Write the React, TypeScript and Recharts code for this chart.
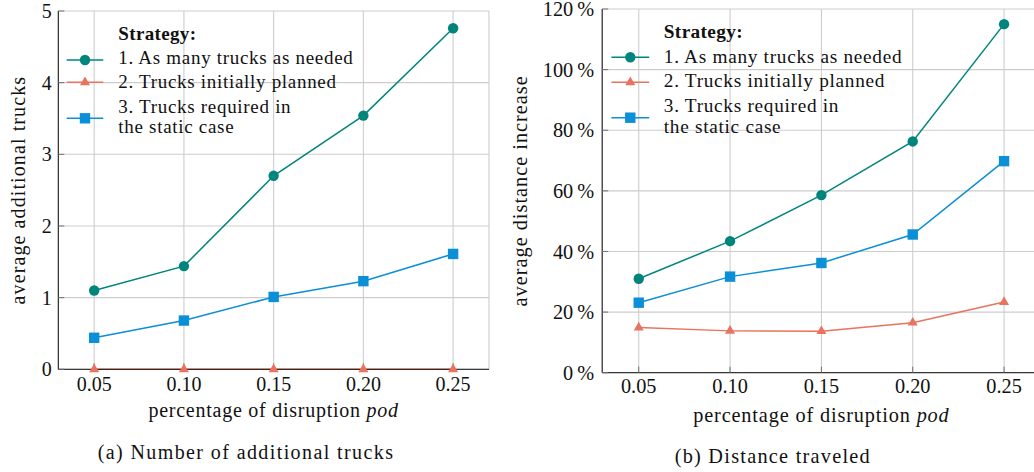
import React from 'react';
import { LineChart, Line, XAxis, YAxis, CartesianGrid, Legend, Label } from 'recharts';

// ---------- data ----------
const pod = [0.05, 0.1, 0.15, 0.2, 0.25];
const xTicks = [0.05, 0.1, 0.15, 0.2, 0.25];
const trucksNeeded = [1.1, 1.44, 2.7, 3.54, 4.76];
const trucksPlanned = [0, 0, 0, 0, 0];
const trucksStatic = [0.44, 0.68, 1.01, 1.23, 1.61];
const distNeeded = [31.0, 43.4, 58.6, 76.3, 115.0];
const distPlanned = [14.9, 13.8, 13.7, 16.5, 23.3];
const distStatic = [23.1, 31.7, 36.2, 45.6, 69.8];
const trucksTicks = [0, 1, 2, 3, 4, 5];
const distTicks = [0, 20, 40, 60, 80, 100, 120];
const legendTitle = 'Strategy:';
const seriesLabels: string[][] = [
  ['1. As many trucks as needed'],
  ['2. Trucks initially planned'],
  ['3. Trucks required in', 'the static case'],
];
const yTitleA = 'average additional trucks';
const yTitleB = 'average distance increase';
const xTitle = 'percentage of disruption ';
const xTitleItalic = 'pod';
const captionA = '(a) Number of additional trucks';
const captionB = '(b) Distance traveled';

const TEAL = '#00857d';
const SALMON = '#e8735f';
const BLUE = '#0b8fd6';
const FONT = '"Liberation Serif", "Times New Roman", serif';

const dataA = pod.map((x, i) => ({ pod: x, s1: trucksNeeded[i], s2: trucksPlanned[i], s3: trucksStatic[i] }));
const dataB = pod.map((x, i) => ({ pod: x, s1: distNeeded[i], s2: distPlanned[i], s3: distStatic[i] }));

// ---------- markers ----------
const circleShape = (cx: number, cy: number, key?: any) => (
  <circle key={key} cx={cx} cy={cy} r={5.2} fill={TEAL} />
);
const squareShape = (cx: number, cy: number, key?: any) => (
  <rect key={key} x={cx - 5.2} y={cy - 5.2} width={10.4} height={10.4} fill={BLUE} />
);
const triShape = (cx: number, cy: number, key?: any) => {
  const r = 5.8;
  return (
    <path
      key={key}
      d={`M${cx},${cy - r} L${cx + r * 0.866},${cy + r / 2} L${cx - r * 0.866},${cy + r / 2} Z`}
      fill={SALMON}
    />
  );
};
const CircleDot = (p: any) => (p.cx == null ? <g key={p.key} /> : circleShape(p.cx, p.cy, p.key));
const SquareDot = (p: any) => (p.cx == null ? <g key={p.key} /> : squareShape(p.cx, p.cy, p.key));
const TriDot = (p: any) => (p.cx == null ? <g key={p.key} /> : triShape(p.cx, p.cy, p.key));

// ---------- legend ----------
type LegendCfg = {
  lineX1: number;
  lineX2: number;
  textX: number;
  titleY: number;
  rowY: number[][]; // baselines for text lines
  markY: number[];
  fontSize: number;
  spacing: number;
};

const makeLegend = (cfg: LegendCfg) => () => {
  const shapes = [circleShape, triShape, squareShape];
  const colors = [TEAL, SALMON, BLUE];
  const mx = (cfg.lineX1 + cfg.lineX2) / 2;
  return (
    <svg width={560} height={472} style={{ display: 'block', overflow: 'visible' }}>
      <text
        x={cfg.textX}
        y={cfg.titleY}
        fontFamily={FONT}
        fontSize={cfg.fontSize}
        fontWeight="bold"
        letterSpacing={cfg.spacing * 0.5}
        fill="#111"
      >
        {legendTitle}
      </text>
      {seriesLabels.map((lines, i) => (
        <g key={i}>
          <line x1={cfg.lineX1} x2={cfg.lineX2} y1={cfg.markY[i]} y2={cfg.markY[i]} stroke={colors[i]} strokeWidth={1.5} />
          {shapes[i](mx, cfg.markY[i])}
          {lines.map((t, j) => (
            <text
              key={j}
              x={cfg.textX}
              y={cfg.rowY[i][j]}
              fontFamily={FONT}
              fontSize={cfg.fontSize}
              letterSpacing={cfg.spacing}
              fill="#111"
            >
              {t}
            </text>
          ))}
        </g>
      ))}
    </svg>
  );
};

// ---------- labels ----------
const yTitleContent = (title: string, dx: number, fs: number, ls: number) => (props: any) => {
  const vb = props.viewBox || { x: 0, y: 0, width: 0, height: 0 };
  const x = vb.x + dx;
  const y = vb.y + vb.height / 2;
  return (
    <text
      x={x}
      y={y}
      transform={`rotate(-90 ${x} ${y})`}
      textAnchor="middle"
      fontFamily={FONT}
      fontSize={fs}
      letterSpacing={ls}
      fill="#111"
    >
      {title}
    </text>
  );
};

const xTitleContent = (
  caption: string,
  titleDy: number,
  capX: number,
  capY: number,
  fs: number,
  titleLs: number,
  capLs: number
) => (props: any) => {
  const vb = props.viewBox || { x: 0, y: 0, width: 0, height: 0 };
  const cx = vb.x + vb.width / 2;
  return (
    <g>
      <text x={cx} y={vb.y + titleDy} textAnchor="middle" fontFamily={FONT} fontSize={fs} letterSpacing={titleLs} fill="#111">
        <tspan>{xTitle}</tspan>
        <tspan fontStyle="italic">{xTitleItalic}</tspan>
      </text>
      <text x={capX} y={capY} textAnchor="middle" fontFamily={FONT} fontSize={fs} letterSpacing={capLs} fill="#111">
        {caption}
      </text>
    </g>
  );
};

// ---------- panel ----------
type PanelProps = {
  data: any[];
  width: number;
  margin: { top: number; right: number; bottom: number; left: number };
  yAxisWidth: number;
  yDomain: [number, number];
  yTicks: number[];
  yFormat: (v: number) => string;
  yTickMargin: number;
  xTickMargin: number;
  fs: number;
  yTitle: string;
  yTitleDx: number;
  yTitleLs: number;
  caption: string;
  xTitleDy: number;
  xTitleLs: number;
  capX: number;
  capY: number;
  capLs: number;
  legend: LegendCfg;
};

const Panel = (p: PanelProps) => (
  <LineChart width={p.width} height={472} data={p.data} margin={p.margin}>
    <CartesianGrid stroke="#cdcdcd" strokeWidth={1.1} />
    <XAxis
      dataKey="pod"
      type="number"
      domain={[0.03, 0.27]}
      ticks={xTicks}
      tickFormatter={(v: number) => v.toFixed(2)}
      height={30}
      tickSize={-6}
      tickMargin={p.xTickMargin}
      axisLine={{ stroke: '#111', strokeWidth: 1 }}
      tickLine={{ stroke: '#707070' }}
      tick={{ fontFamily: FONT, fontSize: p.fs, fill: '#111' }}
      interval={0}
    >
      <Label content={xTitleContent(p.caption, p.xTitleDy, p.capX, p.capY, p.fs, p.xTitleLs, p.capLs)} />
    </XAxis>
    <XAxis
      xAxisId="top"
      orientation="top"
      dataKey="pod"
      type="number"
      domain={[0.03, 0.27]}
      ticks={xTicks}
      height={0}
      tickSize={-6}
      tick={false}
      axisLine={{ stroke: '#444', strokeWidth: 1 }}
      tickLine={{ stroke: '#707070' }}
      allowDataOverflow
    />
    <YAxis
      type="number"
      domain={p.yDomain}
      ticks={p.yTicks}
      tickFormatter={p.yFormat}
      width={p.yAxisWidth}
      tickSize={-6}
      tickMargin={p.yTickMargin}
      axisLine={{ stroke: '#111', strokeWidth: 1 }}
      tickLine={{ stroke: '#707070' }}
      tick={{ fontFamily: FONT, fontSize: p.fs, fill: '#111' }}
      interval={0}
    >
      <Label content={yTitleContent(p.yTitle, p.yTitleDx, p.fs, p.yTitleLs)} />
    </YAxis>
    <YAxis
      yAxisId="right"
      orientation="right"
      type="number"
      domain={p.yDomain}
      ticks={p.yTicks}
      width={0}
      tickSize={-6}
      tick={false}
      axisLine={{ stroke: '#444', strokeWidth: 1 }}
      tickLine={{ stroke: '#707070' }}
      allowDataOverflow
    />
    <Legend
      layout="vertical"
      align="center"
      verticalAlign="middle"
      wrapperStyle={{ left: 0, top: 0, width: p.width, height: 472, pointerEvents: 'none' }}
      content={makeLegend(p.legend)}
    />
    <Line type="linear" dataKey="s1" stroke={TEAL} strokeWidth={1.5} dot={CircleDot} activeDot={false} isAnimationActive={false} />
    <Line type="linear" dataKey="s2" stroke={SALMON} strokeWidth={1.5} dot={TriDot} activeDot={false} isAnimationActive={false} />
    <Line type="linear" dataKey="s3" stroke={BLUE} strokeWidth={1.5} dot={SquareDot} activeDot={false} isAnimationActive={false} />
  </LineChart>
);

export default function App() {
  return (
    <div style={{ position: 'absolute', left: 0, top: 0, width: 1034, height: 472, overflow: 'hidden', background: '#fff' }}>
      <div style={{ position: 'absolute', left: 0, top: 0 }}>
        <Panel
          data={dataA}
          width={500}
          margin={{ top: 11, right: 11, bottom: 72.7, left: 0 }}
          yAxisWidth={58.3}
          yDomain={[0, 5]}
          yTicks={trucksTicks}
          yFormat={(v: number) => String(v)}
          yTickMargin={12.6}
          xTickMargin={13.2}
          fs={20}
          yTitle={yTitleA}
          yTitleDx={25}
          yTitleLs={1.1}
          caption={captionA}
          xTitleDy={47.4}
          xTitleLs={0.75}
          capX={246}
          capY={459.3}
          capLs={1.4}
          legend={{
            lineX1: 66.7,
            lineX2: 103.3,
            textX: 118.3,
            titleY: 39.5,
            rowY: [[64.3], [88.3], [112.7, 133.3]],
            markY: [60, 82.3, 118.3],
            fontSize: 19,
            spacing: 0.7,
          }}
        />
      </div>
      <div style={{ position: 'absolute', left: 500, top: 0 }}>
        <Panel
          data={dataB}
          width={560}
          margin={{ top: 9, right: 19.4, bottom: 69.3, left: 0 }}
          yAxisWidth={102.2}
          yDomain={[0, 120]}
          yTicks={distTicks}
          yFormat={(v: number) => `${v}\u2009%`}
          yTickMargin={14}
          xTickMargin={12.1}
          fs={20.3}
          yTitle={yTitleB}
          yTitleDx={27}
          yTitleLs={1.0}
          caption={captionB}
          xTitleDy={49.6}
          xTitleLs={0.85}
          capX={272.8}
          capY={463.3}
          capLs={1.25}
          legend={{
            lineX1: 111.4,
            lineX2: 149.2,
            textX: 163.8,
            titleY: 38,
            rowY: [[63.3], [87.3], [112.3, 133.3]],
            markY: [57.3, 82.3, 117.7],
            fontSize: 19.3,
            spacing: 0.7,
          }}
        />
      </div>
    </div>
  );
}
